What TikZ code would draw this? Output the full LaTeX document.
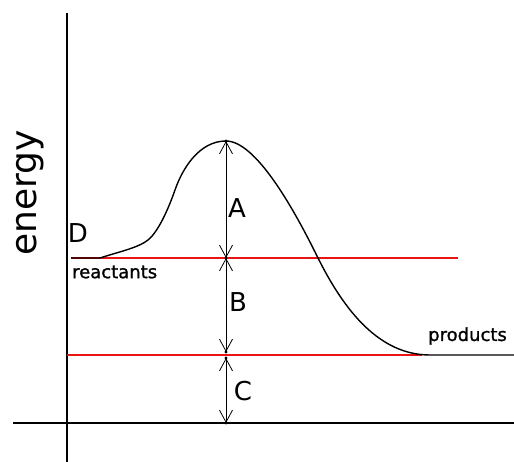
\documentclass[tikz,border=0pt]{standalone}
\usepackage{fontspec}
\setmainfont{DejaVu Sans}
\usetikzlibrary{arrows.meta}
\definecolor{levelred}{RGB}{235,20,20}
\begin{document}
\begin{tikzpicture}[x=1pt,y=-1pt,
  axis/.style={line width=1.2pt,draw=black},
  level/.style={line width=1.3pt,draw=levelred},
  curve/.style={line width=1.4pt,draw=black},
  gap/.style={line width=1pt,draw=black,{Straight Barb[length=12pt,width=13pt,line width=0.8pt]}-{Straight Barb[length=12pt,width=13pt,line width=0.8pt]}},
  dotmark/.style={fill=black},
  lab/.style={inner sep=0pt,font=\fontsize{26}{30}\selectfont},
  small/.style={inner sep=0pt,font=\fontsize{18}{20}\selectfont}]
\useasboundingbox (0,0) rectangle (514,462);
% axes
\coordinate (ytop) at (67,13);
\coordinate (ybot) at (67,462);
\coordinate (xl) at (13,423);
\coordinate (xr) at (514,423);
\draw[axis] (ytop) -- (ybot);
\draw[axis] (xl) -- (xr);
% levels
\coordinate (r0) at (71,258);
\coordinate (r1) at (458,258);
\coordinate (p0) at (67,355);
\coordinate (p1) at (422,355);
\draw[level] (r0) -- (r1);
\draw[level] (p0) -- (p1);
% curve
\coordinate (cs) at (100,258);
\coordinate (c1) at (148,240);
\coordinate (c2) at (175,190);
\coordinate (peak) at (226,141);
\coordinate (c4) at (318,258);
\coordinate (ce) at (430,355);
\coordinate (pr) at (514,355);
\draw[curve] (r0) -- (cs)
  .. controls (118,252) and (138,248) .. (c1)
  .. controls (158,232) and (168,210) .. (c2)
  .. controls (183,167) and (200,141) .. (peak)
  .. controls (255,141) and (292,205) .. (c4)
  .. controls (345,312) and (380,355) .. (ce)
  -- (pr);
% gaps
\coordinate (rmid) at (226,258);
\coordinate (pup) at (226,352);
\coordinate (pdn) at (226,358);
\coordinate (base) at (226,423);
\draw[gap] (peak) -- (rmid);
\draw[gap] (rmid) -- (pup);
\draw[gap] (pdn) -- (base);
\foreach \c in {peak,rmid,pup,pdn,base} \fill[dotmark] (\c) circle (1.6);
% labels
\node[lab] (A) at (237,208) {A};
\node[lab] (B) at (238,302) {B};
\node[lab] (C) at (243,391) {C};
\node[lab] (D) at (78,233) {D};
\node[small,anchor=west] (react) at (72,272) {\addfontfeatures{FakeBold=1.2}reactants};
\node[small,anchor=west] (prod) at (428,336) {\addfontfeatures{FakeBold=1.2}products};
\node[inner sep=0pt,rotate=90,font=\fontsize{36}{40}\selectfont] (energy) at (30,193) {energy};
\end{tikzpicture}
\end{document}
